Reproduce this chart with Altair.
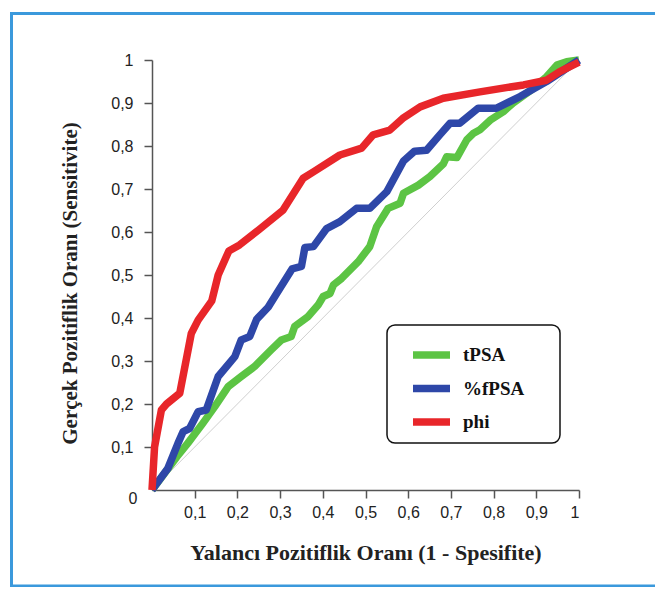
import altair as alt
import pandas as pd

SERIES = ["tPSA", "%fPSA", "phi"]
COLORS = ["#5cc444", "#2e47a8", "#e8262a"]

TPSA_X = [0, 0.058, 0.084, 0.116, 0.147, 0.178, 0.209, 0.24, 0.279, 0.303, 0.326, 0.334, 0.365,
          0.389, 0.401, 0.417, 0.425, 0.444, 0.483, 0.51, 0.526, 0.553, 0.581, 0.589, 0.624,
          0.651, 0.682, 0.69, 0.714, 0.737, 0.752, 0.768, 0.792, 0.823, 0.846, 0.893, 0.924,
          0.948, 0.971, 1.0]
TPSA_Y = [0, 0.077, 0.109, 0.151, 0.194, 0.24, 0.264, 0.287, 0.326, 0.349, 0.357, 0.38, 0.403,
          0.43, 0.45, 0.457, 0.477, 0.492, 0.531, 0.566, 0.612, 0.655, 0.667, 0.69, 0.709,
          0.729, 0.758, 0.775, 0.773, 0.814, 0.829, 0.838, 0.86, 0.88, 0.9, 0.934, 0.961,
          0.988, 0.996, 1.0]

FPSA_X = [0, 0.006, 0.037, 0.061, 0.073, 0.088, 0.108, 0.127, 0.155, 0.194, 0.209, 0.229, 0.245,
          0.272, 0.292, 0.328, 0.35, 0.358, 0.378, 0.409, 0.44, 0.479, 0.51, 0.55, 0.589, 0.615,
          0.643, 0.674, 0.698, 0.721, 0.764, 0.807, 0.862, 0.924, 1.0]
FPSA_Y = [0, 0.008, 0.05, 0.109, 0.136, 0.143, 0.182, 0.186, 0.264, 0.31, 0.349, 0.357, 0.397,
          0.425, 0.457, 0.514, 0.52, 0.564, 0.566, 0.608, 0.624, 0.655, 0.655, 0.694, 0.765, 0.788,
          0.79, 0.826, 0.853, 0.853, 0.888, 0.888, 0.915, 0.95, 1.0]

PHI_X = [0, 0.006, 0.022, 0.034, 0.065, 0.092, 0.108, 0.14, 0.155, 0.18, 0.205, 0.25, 0.307,
         0.354, 0.378, 0.44, 0.491, 0.518, 0.557, 0.587, 0.628, 0.682, 0.768, 0.87, 0.924,
         0.955, 1.0]
PHI_Y = [0, 0.10, 0.186, 0.20, 0.225, 0.364, 0.395, 0.44, 0.50, 0.556, 0.57, 0.605, 0.651,
         0.725, 0.74, 0.779, 0.795, 0.826, 0.837, 0.864, 0.891, 0.911, 0.926, 0.942, 0.953,
         0.973, 0.995]

DIAG_X = [0, 1]
DIAG_Y = [0, 1]

TICKS = [0.1, 0.2, 0.3, 0.4, 0.5, 0.6, 0.7, 0.8, 0.9, 1.0]
X_TITLE = "Yalancı Pozitiflik Oranı  (1 - Spesifite)"
Y_TITLE = "Gerçek Pozitiflik Oranı (Sensitivite)"

def frame(name, xs, ys):
    return pd.DataFrame({"series": name, "x": xs, "y": ys, "i": range(len(xs))})

data = {
    "tPSA": frame("tPSA", TPSA_X, TPSA_Y),
    "%fPSA": frame("%fPSA", FPSA_X, FPSA_Y),
    "phi": frame("phi", PHI_X, PHI_Y),
}
diag = pd.DataFrame({"x": DIAG_X, "y": DIAG_Y})

xs = alt.Scale(domain=[0, 1], nice=False, zero=False)
ys = alt.Scale(domain=[0, 1], nice=False, zero=False)
lbl = "replace(format(datum.value, '.1~f'), '.', ',')"
x_axis = alt.Axis(values=TICKS, labelExpr=lbl, title=X_TITLE, titlePadding=22, labelPadding=6)
y_axis = alt.Axis(values=TICKS, labelExpr=lbl, title=Y_TITLE, titlePadding=30, labelPadding=11,
                  titleY=223, titleFontSize=21)

color = alt.Color("series:N", scale=alt.Scale(domain=SERIES, range=COLORS), legend=None)

dummy = pd.DataFrame({"a": [0]})
border = alt.Chart(dummy).mark_rect(filled=False, stroke="#3b99dc", strokeWidth=3).encode(
    x=alt.value(-140.5), x2=alt.value(540), y=alt.value(-46.5), y2=alt.value(526))
legend_box = alt.Chart(dummy).mark_rect(fill="white", stroke="#111", strokeWidth=1.5,
                                        cornerRadius=8).encode(
    x=alt.value(235), x2=alt.value(408), y=alt.value(265), y2=alt.value(383))

diag_line = alt.Chart(diag).mark_line(color="#cfcfcf", strokeWidth=1).encode(
    x=alt.X("x:Q", scale=xs, axis=x_axis), y=alt.Y("y:Q", scale=ys, axis=y_axis))

def series_layer(name):
    return alt.Chart(data[name]).mark_line(strokeWidth=7.5, strokeJoin="round").encode(
        x=alt.X("x:Q", scale=xs, axis=x_axis), y=alt.Y("y:Q", scale=ys, axis=y_axis),
        color=color, order="i:Q")

# legend entries (decoration layout)
legend_layers = []
for k, name in enumerate(SERIES):
    row_y = 295 + 33.5 * k
    entry = pd.DataFrame({"series": [name]})
    legend_layers.append(
        alt.Chart(entry).mark_rule(strokeWidth=7.5, strokeCap="butt").encode(
            x=alt.value(261), x2=alt.value(298), y=alt.value(row_y), color=color))
    legend_layers.append(
        alt.Chart(entry).mark_text(font="Liberation Serif", fontWeight="bold", fontSize=19,
                                   color="#111", align="left", baseline="middle").encode(
            x=alt.value(311), y=alt.value(row_y), text="series:N"))

zero_lbl = alt.Chart(pd.DataFrame({"x": [0], "y": [0], "t": ["0"]})).mark_text(
    font="Liberation Sans", fontSize=16, color="#222", dx=-19, dy=9).encode(
    x="x:Q", y="y:Q", text="t:N")

chart = alt.layer(
    border, legend_box, diag_line,
    series_layer("tPSA"), series_layer("%fPSA"), series_layer("phi"), zero_lbl,
    *legend_layers
).properties(
    width=427, height=430,
    autosize=alt.AutoSizeParams(type="none"),
    padding={"left": 144, "top": 52, "right": 76, "bottom": 97},
).configure_view(strokeWidth=0).configure_axis(
    grid=False, domainColor="#555", tickColor="#555", domainWidth=1.5, tickWidth=1.5,
    tickSize=8, labelFont="Liberation Sans", labelFontSize=16, labelColor="#222",
    titleFont="Liberation Serif", titleFontSize=22, titleFontWeight="bold",
    titleColor="#222"
)

chart.save("out.html", embed_options={"renderer": "svg", "actions": False})
